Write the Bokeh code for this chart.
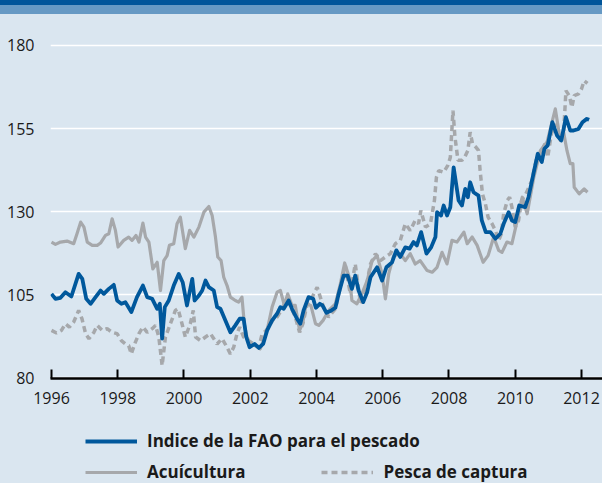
from bokeh.plotting import figure
from bokeh.models import FixedTicker, Legend, LegendItem, Div, Range1d
from bokeh.layouts import column
from bokeh.embed import file_html
from bokeh.resources import INLINE

# ---------------- data ----------------
fish_t = [1996.00, 1996.12, 1996.27, 1996.42, 1996.60, 1996.82, 1996.93, 1997.05, 1997.18, 1997.33,
          1997.48, 1997.58, 1997.73, 1997.88, 1997.98, 1998.11, 1998.23, 1998.41, 1998.58, 1998.76,
          1998.89, 1999.04, 1999.19, 1999.27, 1999.34, 1999.42, 1999.54, 1999.69, 1999.84, 1999.96,
          2000.09, 2000.25, 2000.32, 2000.45, 2000.55, 2000.65, 2000.75, 2000.90, 2001.00, 2001.10,
          2001.25, 2001.40, 2001.55, 2001.68, 2001.80, 2001.88, 2001.98, 2002.13, 2002.26, 2002.39,
          2002.51, 2002.66, 2002.81, 2002.91, 2003.01, 2003.16, 2003.26, 2003.41, 2003.51, 2003.61,
          2003.76, 2003.90, 2003.98, 2004.10, 2004.18, 2004.30, 2004.45, 2004.57, 2004.67, 2004.82,
          2004.94, 2005.07, 2005.17, 2005.27, 2005.41, 2005.53, 2005.63, 2005.83, 2005.98, 2006.11,
          2006.28, 2006.41, 2006.53, 2006.68, 2006.81, 2006.93, 2007.03, 2007.16, 2007.32, 2007.46,
          2007.59, 2007.64, 2007.76, 2007.84, 2007.94, 2008.04, 2008.14, 2008.29, 2008.39, 2008.49,
          2008.57, 2008.64, 2008.74, 2008.89, 2008.99, 2009.11, 2009.25, 2009.40, 2009.55, 2009.65,
          2009.80, 2009.90, 2010.00, 2010.12, 2010.30, 2010.40, 2010.55, 2010.68, 2010.80, 2010.88,
          2010.98, 2011.12, 2011.26, 2011.39, 2011.53, 2011.66, 2011.76, 2011.91, 2012.03, 2012.16,
          2012.23]
fish_v = [105.2, 103.7, 104.0, 105.7, 104.4, 111.2, 109.7, 103.7, 102.2, 104.2,
          106.2, 105.2, 106.7, 107.9, 103.2, 102.2, 102.7, 99.7, 104.2, 107.7,
          104.2, 103.7, 100.7, 102.2, 91.7, 101.2, 103.2, 107.7, 111.2, 108.7,
          101.7, 109.7, 103.2, 104.7, 106.2, 109.2, 107.2, 106.2, 101.2, 100.7,
          97.2, 93.6, 95.7, 97.7, 97.7, 92.2, 89.1, 90.1, 88.9, 90.1,
          94.2, 97.2, 99.2, 101.2, 100.7, 103.2, 100.7, 97.7, 96.2, 100.2,
          104.2, 103.7, 101.0, 102.2, 101.7, 99.5, 100.2, 101.0, 105.2, 110.7,
          110.7, 106.7, 110.7, 106.2, 102.7, 105.7, 110.2, 113.2, 109.2, 113.2,
          114.7, 118.3, 116.3, 119.2, 118.8, 120.8, 119.8, 123.8, 117.3, 119.2,
          122.3, 129.8, 128.8, 131.8, 128.8, 131.3, 143.3, 133.3, 131.8, 136.8,
          134.3, 138.8, 135.8, 134.8, 127.3, 123.8, 123.8, 121.8, 123.3, 126.3,
          129.8, 127.3, 126.8, 131.8, 131.3, 134.3, 141.4, 147.4, 144.9, 148.9,
          149.9, 156.9, 152.9, 151.4, 158.4, 154.4, 154.4, 154.9, 156.9, 157.9,
          157.6]

aqua_t = [1996.00, 1996.12, 1996.27, 1996.47, 1996.67, 1996.77, 1996.88, 1996.98, 1997.08, 1997.23,
          1997.38, 1997.48, 1997.63, 1997.73, 1997.83, 1997.93, 1998.01, 1998.18, 1998.33, 1998.43,
          1998.55, 1998.64, 1998.76, 1998.84, 1998.94, 1999.06, 1999.19, 1999.29, 1999.39, 1999.49,
          1999.56, 1999.69, 1999.79, 1999.89, 2000.04, 2000.17, 2000.30, 2000.45, 2000.60, 2000.75,
          2000.85, 2000.95, 2001.02, 2001.12, 2001.20, 2001.30, 2001.40, 2001.55, 2001.65, 2001.75,
          2001.82, 2001.90, 2002.00, 2002.15, 2002.30, 2002.40, 2002.53, 2002.66, 2002.81, 2002.91,
          2003.03, 2003.13, 2003.26, 2003.36, 2003.49, 2003.59, 2003.69, 2003.83, 2003.97, 2004.07,
          2004.20, 2004.37, 2004.57, 2004.72, 2004.85, 2004.99, 2005.07, 2005.22, 2005.37, 2005.53,
          2005.68, 2005.83, 2005.98, 2006.08, 2006.18, 2006.33, 2006.53, 2006.68, 2006.83, 2006.98,
          2007.13, 2007.34, 2007.49, 2007.64, 2007.79, 2007.94, 2008.09, 2008.24, 2008.45, 2008.55,
          2008.70, 2008.85, 2009.03, 2009.18, 2009.35, 2009.50, 2009.60, 2009.75, 2009.90, 2010.06,
          2010.21, 2010.36, 2010.56, 2010.76, 2010.96, 2011.21, 2011.36, 2011.46, 2011.56, 2011.66,
          2011.74, 2011.78, 2011.93, 2012.08, 2012.18]
aqua_v = [120.8, 120.1, 120.8, 121.1, 120.3, 123.3, 126.8, 125.3, 120.8, 119.8,
          119.8, 120.5, 122.8, 123.3, 127.8, 124.3, 119.3, 121.3, 122.3, 121.3,
          122.8, 120.8, 126.5, 122.3, 120.8, 112.7, 114.7, 106.2, 115.2, 116.7,
          119.8, 120.3, 126.3, 128.3, 118.8, 124.3, 122.3, 125.3, 129.8, 131.5,
          128.8, 122.3, 116.3, 115.2, 110.2, 107.7, 104.2, 103.2, 102.7, 104.2,
          96.2, 92.2, 90.1, 89.6, 88.6, 91.1, 95.2, 101.2, 105.7, 106.2,
          101.7, 105.2, 101.7, 101.7, 94.2, 96.7, 102.2, 101.7, 96.2, 95.7,
          97.2, 100.2, 102.2, 108.2, 114.5, 110.2, 103.2, 102.2, 105.2, 109.2,
          115.2, 116.7, 111.2, 103.7, 111.2, 116.7, 117.3, 115.2, 117.3, 114.2,
          115.2, 112.2, 111.7, 113.2, 117.7, 114.2, 121.3, 120.8, 123.8, 120.3,
          122.3, 119.8, 114.7, 116.7, 122.3, 118.3, 117.7, 120.8, 120.3, 127.3,
          134.3, 129.3, 140.3, 148.4, 150.9, 160.9, 151.4, 153.9, 148.4, 144.4,
          144.4, 137.3, 135.3, 136.8, 135.8]

capt_t = [1996.00, 1996.15, 1996.30, 1996.42, 1996.54, 1996.67, 1996.82, 1996.92, 1997.03, 1997.13,
          1997.28, 1997.38, 1997.53, 1997.68, 1997.83, 1997.98, 1998.11, 1998.23, 1998.33, 1998.41,
          1998.51, 1998.64, 1998.76, 1998.89, 1999.04, 1999.14, 1999.24, 1999.34, 1999.44, 1999.59,
          1999.74, 1999.82, 1999.94, 2000.04, 2000.19, 2000.28, 2000.35, 2000.50, 2000.65, 2000.80,
          2000.90, 2001.00, 2001.15, 2001.30, 2001.40, 2001.50, 2001.60, 2001.68, 2001.80, 2001.95,
          2002.10, 2002.26, 2002.36, 2002.49, 2002.61, 2002.71, 2002.81, 2002.96, 2003.09, 2003.21,
          2003.36, 2003.49, 2003.59, 2003.72, 2003.87, 2004.02, 2004.20, 2004.37, 2004.57, 2004.72,
          2004.87, 2005.02, 2005.17, 2005.33, 2005.48, 2005.63, 2005.78, 2005.93, 2006.08, 2006.23,
          2006.38, 2006.53, 2006.68, 2006.83, 2006.98, 2007.08, 2007.15, 2007.29, 2007.44, 2007.56,
          2007.62, 2007.69, 2007.84, 2007.96, 2008.04, 2008.12, 2008.18, 2008.22, 2008.27, 2008.39,
          2008.47, 2008.57, 2008.64, 2008.71, 2008.81, 2008.89, 2008.94, 2009.01, 2009.10, 2009.18,
          2009.30, 2009.40, 2009.50, 2009.58, 2009.65, 2009.76, 2009.83, 2009.90, 2010.00, 2010.10,
          2010.19, 2010.32, 2010.50, 2010.65, 2010.80, 2010.90, 2010.98, 2011.09, 2011.21, 2011.34,
          2011.46, 2011.53, 2011.63, 2011.71, 2011.78, 2011.91, 2012.00, 2012.08, 2012.18]
capt_v = [94.2, 93.4, 94.2, 96.2, 95.2, 96.7, 100.2, 97.7, 93.2, 91.7,
          93.6, 95.7, 94.2, 94.7, 93.6, 93.2, 91.1, 90.1, 89.6, 87.1,
          90.1, 93.2, 95.2, 93.6, 94.7, 95.7, 92.2, 83.6, 92.2, 96.2,
          100.2, 100.7, 96.2, 92.2, 96.2, 100.2, 92.2, 91.1, 92.2, 93.2,
          91.7, 90.1, 91.7, 89.1, 87.1, 89.1, 93.2, 95.2, 92.2, 91.1,
          90.1, 89.1, 93.2, 94.2, 96.2, 97.7, 98.2, 100.7, 103.2, 101.7,
          98.2, 93.6, 96.2, 102.2, 104.2, 107.2, 101.5, 98.2, 100.7, 107.2,
          113.7, 105.2, 114.2, 102.2, 106.2, 114.2, 117.3, 115.2, 116.3, 117.3,
          120.3, 121.3, 126.3, 124.3, 127.3, 126.3, 130.3, 125.3, 126.3, 133.3,
          140.3, 142.3, 141.8, 143.8, 146.3, 160.4, 152.4, 149.4, 145.4, 145.4,
          146.3, 148.4, 153.9, 150.4, 149.4, 148.4, 142.3, 135.3, 132.3, 128.3,
          126.3, 124.3, 121.3, 123.3, 129.3, 133.3, 134.3, 131.3, 125.3, 127.3,
          133.3, 135.3, 139.3, 146.3, 148.4, 150.4, 146.3, 153.4, 156.4, 151.4,
          153.4, 166.4, 164.9, 161.4, 164.9, 165.4, 166.9, 169.4, 168.6]

x_ticks = [1996, 1998, 2000, 2002, 2004, 2006, 2008, 2010, 2012]
y_ticks = [80, 105, 130, 155, 180]
labels = ["Indice de la FAO para el pescado", "Acuícultura", "Pesca de captura"]

# ---------------- style ----------------
BG = "#dae6f0"
BLUE = "#00589c"
GRAY = "#a6a8ab"
TXT = "#1a1a1a"
FONT = "Open Sans"
STY_FISH = dict(line_color=BLUE, line_width=3.8, line_join="round")
STY_AQUA = dict(line_color=GRAY, line_width=3.2, line_join="round")
STY_CAPT = dict(line_color=GRAY, line_width=3.5, line_dash="6 4")

band1 = Div(text="", width=602, height=5, margin=0,
            styles={"background-color": "#00559a"})
band2 = Div(text="", width=602, height=9, margin=0,
            styles={"background-color": "#6699c4"})

p = figure(width=602, height=402, output_backend="svg", toolbar_location=None,
           x_range=Range1d(1995.97, 2012.634), y_range=Range1d(79.7, 187.53),
           min_border_left=50, min_border_right=0, min_border_top=6, min_border_bottom=38,
           background_fill_color=BG, border_fill_color=BG, outline_line_color=None,
           margin=0)

r_capt = p.line(capt_t, capt_v, **STY_CAPT)
r_aqua = p.line(aqua_t, aqua_v, **STY_AQUA)
r_fish = p.line(fish_t, fish_v, **STY_FISH)

p.xgrid.grid_line_color = None
p.ygrid.grid_line_color = "white"
p.ygrid.grid_line_width = 1.5
p.ygrid.ticker = FixedTicker(ticks=y_ticks)

p.xaxis.ticker = FixedTicker(ticks=x_ticks)
p.xaxis.axis_line_color = "black"
p.xaxis.axis_line_width = 2.5
p.xaxis.major_tick_line_color = "black"
p.xaxis.major_tick_line_width = 2
p.xaxis.major_tick_in = 9
p.xaxis.major_tick_out = 0
p.xaxis.minor_tick_line_color = None
p.xaxis.major_label_standoff = 13
p.xaxis.major_label_text_font = FONT
p.xaxis.major_label_text_font_size = "16px"
p.xaxis.major_label_text_color = TXT

p.yaxis.ticker = FixedTicker(ticks=y_ticks)
p.yaxis.axis_line_color = None
p.yaxis.major_tick_line_color = None
p.yaxis.minor_tick_line_color = None
p.yaxis.major_label_standoff = 10
p.yaxis.major_label_text_font = FONT
p.yaxis.major_label_text_font_size = "16px"
p.yaxis.major_label_text_color = TXT

# ---------------- legend panel (series drawn off-range, only their keys show) ----------------
lg = figure(width=602, height=67, output_backend="svg", toolbar_location=None,
            x_range=Range1d(0, 1), y_range=Range1d(0, 1),
            x_axis_location=None, y_axis_location=None,
            min_border=0, min_border_left=0, min_border_right=0,
            min_border_top=0, min_border_bottom=0,
            background_fill_color=BG, border_fill_color=BG,
            outline_line_color=None, margin=0)
lg.grid.visible = False
k_fish = lg.line(fish_t, fish_v, **STY_FISH)
k_aqua = lg.line(aqua_t, aqua_v, **STY_AQUA)
k_capt = lg.line(capt_t, capt_v, **STY_CAPT)

common = dict(orientation="horizontal", glyph_width=52, glyph_height=20, label_height=20,
              label_standoff=10, padding=0, margin=0, background_fill_alpha=0,
              border_line_color=None, label_text_font=FONT, label_text_font_style="bold",
              label_text_font_size="17px", label_text_color=TXT)

leg1 = Legend(items=[LegendItem(label=labels[0], renderers=[k_fish])],
              location=(35, 31), **common)
leg2 = Legend(items=[LegendItem(label=labels[1], renderers=[k_aqua]),
                     LegendItem(label=labels[2], renderers=[k_capt])],
              location=(35, 0), spacing=76, **common)
lg.add_layout(leg1)
lg.add_layout(leg2)

page = column(band1, band2, p, lg, margin=0, spacing=0)

html = file_html(page, INLINE).replace(
    "<head>", "<head><style>html,body{margin:0;padding:0;background:%s;overflow:hidden}</style>" % BG, 1)
open("out.html", "w").write(html)
